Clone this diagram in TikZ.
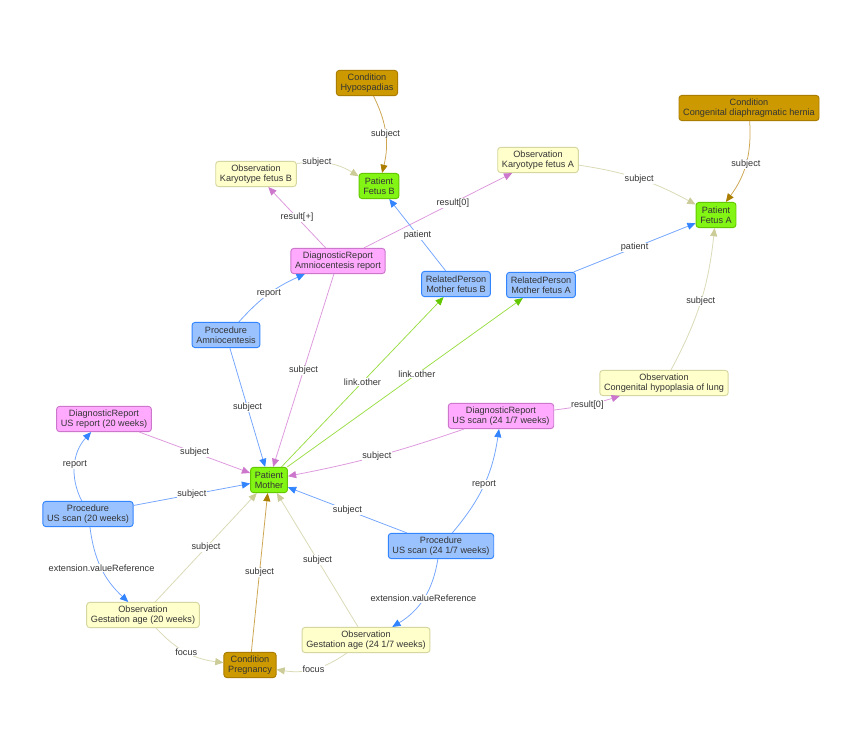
\documentclass[tikz,border=0pt]{standalone}
\usepackage{fontspec}
\setmainfont{Liberation Sans}
\usetikzlibrary{arrows.meta}

\definecolor{condfill}{RGB}{204,153,0}
\definecolor{conddraw}{RGB}{170,125,0}
\definecolor{condline}{RGB}{205,165,80}
\definecolor{patfill}{RGB}{130,245,20}
\definecolor{patdraw}{RGB}{100,200,0}
\definecolor{obsfill}{RGB}{255,255,204}
\definecolor{obsdraw}{RGB}{214,214,160}
\definecolor{obsline}{RGB}{218,218,182}
\definecolor{obstip}{RGB}{204,204,153}
\definecolor{repfill}{RGB}{255,170,255}
\definecolor{repdraw}{RGB}{204,119,204}
\definecolor{repline}{RGB}{222,152,222}
\definecolor{procfill}{RGB}{153,194,255}
\definecolor{procdraw}{RGB}{51,133,255}
\definecolor{procline}{RGB}{115,165,255}
\definecolor{greenline}{RGB}{155,222,70}
\definecolor{lbltext}{RGB}{52,52,52}

\tikzset{
    box/.style={draw, rounded corners=2.5pt, line width=0.8pt, align=center,
        minimum height=21.5pt, inner xsep=3.6pt, inner ysep=1.5pt, text=lbltext,
        font=\fontsize{7.8}{8.4}\selectfont},
    cond/.style={box, fill=condfill, draw=conddraw},
    pat/.style={box, fill=patfill, draw=patdraw},
    obs/.style={box, fill=obsfill, draw=obsdraw},
    rep/.style={box, fill=repfill, draw=repdraw},
    proc/.style={box, fill=procfill, draw=procdraw},
    link/.style={line width=0.65pt},
    condlink/.style={link, draw=condline, -{Triangle[length=7pt,width=6pt,color=conddraw]}},
    obslink/.style={link, draw=obsline, -{Triangle[length=7pt,width=6pt,color=obstip]}},
    replink/.style={link, draw=repline, -{Triangle[length=7pt,width=6pt,color=repdraw]}},
    proclink/.style={link, draw=procline, -{Triangle[length=7pt,width=6pt,color=procdraw]}},
    otherlink/.style={link, draw=greenline, -{Triangle[length=7pt,width=6pt,color=patdraw]}},
    lbl/.style={fill=white, inner sep=0.5pt, text=lbltext, font=\fontsize{7.8}{8.4}\selectfont},
}

\begin{document}
\begin{tikzpicture}[x=0.03cm, y=-0.03cm]
                \fill [white] (0,0) rectangle (864,749);
                \useasboundingbox (0,0) rectangle (864,749);

% узлы
                \node [cond] (hyp) at (367,83) {Condition\\Hypospadias};
                \node [cond] (cdh) at (749,108) {Condition\\Congenital diaphragmatic hernia};
                \node [cond] (preg) at (250,665) {Condition\\Pregnancy};

                \node [pat] (fetB) at (379,186) {Patient\\Fetus B};
                \node [pat] (fetA) at (716,215) {Patient\\Fetus A};
                \node [pat] (mother) at (269,480) {Patient\\Mother};

                \node [obs] (karB) at (256,174) {Observation\\Karyotype fetus B};
                \node [obs] (karA) at (538,160) {Observation\\Karyotype fetus A};
                \node [obs] (hypo) at (664,383) {Observation\\Congenital hypoplasia of lung};
                \node [obs] (gestA) at (143,615) {Observation\\Gestation age (20 weeks)};
                \node [obs] (gestB) at (366,640) {Observation\\Gestation age (24 1/7 weeks)};

                \node [rep] (amrep) at (338,261) {DiagnosticReport\\Amniocentesis report};
                \node [rep] (usrepA) at (104,419) {DiagnosticReport\\US report (20 weeks)};
                \node [rep] (usrepB) at (501,416) {DiagnosticReport\\US scan (24 1/7 weeks)};

                \node [proc] (relB) at (456,284) {RelatedPerson\\Mother fetus B};
                \node [proc] (relA) at (541,285) {RelatedPerson\\Mother fetus A};
                \node [proc] (amnio) at (226,335) {Procedure\\Amniocentesis};
                \node [proc] (usscanA) at (88,514) {Procedure\\US scan (20 weeks)};
                \node [proc] (usscanB) at (441,546) {Procedure\\US scan (24 1/7 weeks)};

% связи сверху
                \draw [condlink] (hyp) to [bend left=20] node [lbl] {subject} (fetB);
                \draw [obslink] (karB) to [bend left=20] node [lbl, pos=0.3] {subject} (fetB);
                \draw [replink] (amrep) -- node [lbl] {result[+]} (karB);
                \draw [replink] (amrep) -- node [lbl, pos=0.6] {result[0]} (karA);
                \draw [obslink] (karA) to [bend left=10] node [lbl] {subject} (fetA);
                \draw [condlink] (cdh) to [bend left=20] node [lbl] {subject} (fetA);
                \draw [proclink] (relB) -- node [lbl] {patient} (fetB);
                \draw [proclink] (relA) -- node [lbl] {patient} (fetA);
                \draw [obslink] (hypo) to [bend right=11] node [lbl] {subject} (fetA);

% связи к матери
                \draw [proclink] (amnio) to [bend left=12] node [lbl] {report} (amrep);
                \draw [replink] (amrep) -- node [lbl] {subject} (mother);
                \draw [proclink] (amnio) -- node [lbl] {subject} (mother);
                \draw [otherlink] (mother) -- node [lbl] {link.other} (relB);
                \draw [otherlink] (mother) -- node [lbl, pos=0.55] {link.other} (relA);
                \draw [replink] (usrepA) -- node [lbl] {subject} (mother);
                \draw [replink] (usrepB) to [bend right=5] node [lbl] {result[0]} (hypo);
                \draw [replink] (usrepB) to [bend left=4] node [lbl] {subject} (mother);
                \draw [proclink] (usscanA) to [bend left=35] node [lbl] {report} (usrepA);
                \draw [proclink] (usscanA) -- node [lbl] {subject} (mother);
                \draw [proclink] (usscanB) -- node [lbl] {subject} (mother);
                \draw [proclink] (usscanB) to [bend right=16] node [lbl] {report} (usrepB);

% связи снизу
                \draw [proclink] (usscanA) to [bend right=20] node [lbl] {extension.valueReference} (gestA);
                \draw [proclink] (usscanB) to [bend left=25] node [lbl] {extension.valueReference} (gestB);
                \draw [obslink] (gestA) -- node [lbl] {subject} (mother);
                \draw [condlink] (preg) -- node [lbl] {subject} (mother);
                \draw [obslink] (gestB) -- node [lbl] {subject} (mother);
                \draw [obslink] (gestA) to [bend right=20] node [lbl] {focus} (preg);
                \draw [obslink] (gestB) to [bend left=22] node [lbl] {focus} (preg);
\end{tikzpicture}
\end{document}
